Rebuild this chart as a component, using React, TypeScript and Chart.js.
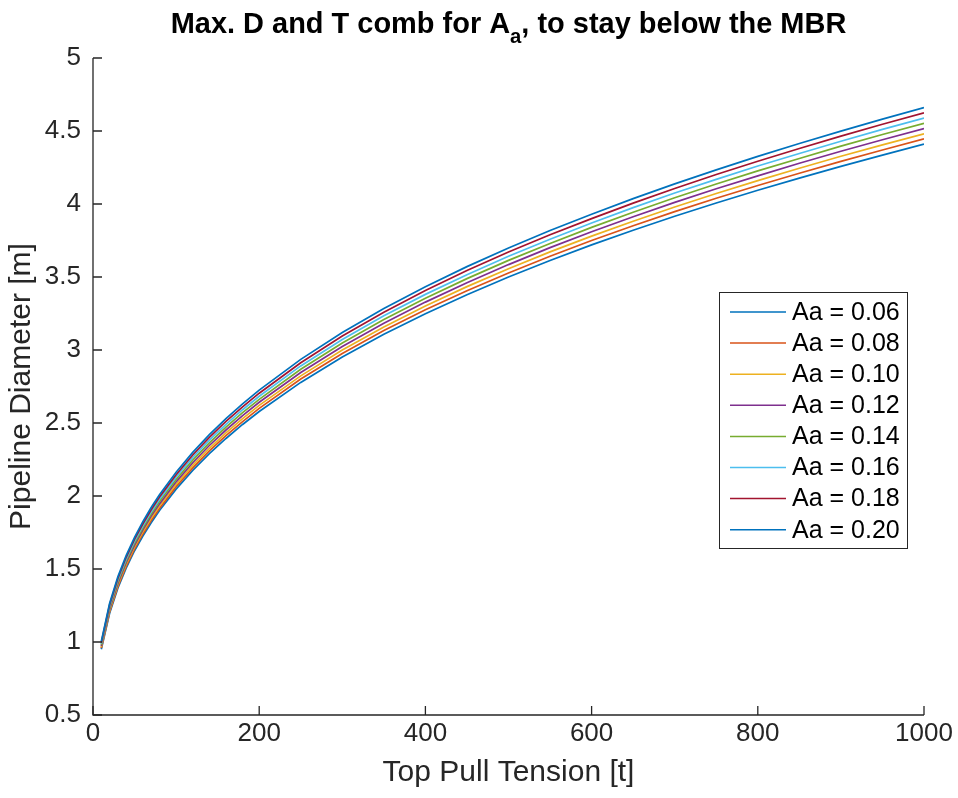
import React, { useEffect, useRef } from "react";
import { Chart, registerables } from "chart.js";

Chart.register(...registerables);

// Top pull tension [t]
const tension = [10, 20, 30, 40, 50, 60, 70, 80, 100, 120, 140, 160, 180, 200, 250, 300, 350, 400, 450, 500, 550, 600, 650, 700, 750, 800, 850, 900, 950, 1000];

// Pipeline diameter [m] per Aa
const aa006 = [0.950, 1.197, 1.370, 1.508, 1.625, 1.726, 1.817, 1.900, 2.047, 2.175, 2.290, 2.394, 2.490, 2.579, 2.778, 2.952, 3.108, 3.249, 3.379, 3.500, 3.613, 3.720, 3.820, 3.916, 4.007, 4.094, 4.177, 4.258, 4.335, 4.410];
const aa008 = [0.958, 1.207, 1.381, 1.520, 1.638, 1.740, 1.832, 1.915, 2.064, 2.193, 2.309, 2.413, 2.510, 2.600, 2.801, 2.976, 3.133, 3.275, 3.406, 3.528, 3.642, 3.750, 3.851, 3.948, 4.039, 4.127, 4.211, 4.292, 4.370, 4.446];
const aa010 = [0.965, 1.216, 1.392, 1.533, 1.651, 1.754, 1.847, 1.931, 2.080, 2.210, 2.327, 2.433, 2.530, 2.621, 2.823, 3.000, 3.158, 3.302, 3.434, 3.557, 3.672, 3.780, 3.882, 3.979, 4.072, 4.160, 4.245, 4.327, 4.405, 4.481];
const aa012 = [0.973, 1.226, 1.403, 1.545, 1.664, 1.768, 1.862, 1.946, 2.097, 2.228, 2.346, 2.452, 2.550, 2.642, 2.846, 3.024, 3.183, 3.328, 3.461, 3.585, 3.701, 3.810, 3.913, 4.011, 4.104, 4.193, 4.279, 4.361, 4.440, 4.517];
const aa014 = [0.981, 1.236, 1.415, 1.557, 1.678, 1.782, 1.876, 1.962, 2.113, 2.246, 2.364, 2.472, 2.571, 2.662, 2.868, 3.048, 3.209, 3.355, 3.489, 3.614, 3.730, 3.840, 3.944, 4.043, 4.137, 4.227, 4.312, 4.396, 4.476, 4.553];
const aa016 = [0.989, 1.246, 1.426, 1.569, 1.691, 1.796, 1.891, 1.977, 2.130, 2.264, 2.383, 2.491, 2.591, 2.683, 2.891, 3.072, 3.234, 3.381, 3.516, 3.642, 3.759, 3.870, 3.975, 4.075, 4.169, 4.260, 4.346, 4.430, 4.511, 4.589];
const aa018 = [0.996, 1.255, 1.437, 1.582, 1.704, 1.810, 1.906, 1.993, 2.146, 2.281, 2.401, 2.511, 2.611, 2.704, 2.913, 3.096, 3.259, 3.408, 3.544, 3.671, 3.789, 3.900, 4.006, 4.106, 4.202, 4.293, 4.380, 4.465, 4.546, 4.624];
const aa020 = [1.004, 1.265, 1.448, 1.594, 1.717, 1.824, 1.921, 2.008, 2.163, 2.299, 2.420, 2.530, 2.631, 2.725, 2.936, 3.120, 3.284, 3.434, 3.571, 3.699, 3.818, 3.930, 4.037, 4.138, 4.234, 4.326, 4.414, 4.499, 4.581, 4.660];

const seriesLabels = ["Aa = 0.06", "Aa = 0.08", "Aa = 0.10", "Aa = 0.12", "Aa = 0.14", "Aa = 0.16", "Aa = 0.18", "Aa = 0.20"];
const seriesValues = [aa006, aa008, aa010, aa012, aa014, aa016, aa018, aa020];
const seriesColors = ["#0072BD", "#D95319", "#EDB120", "#7E2F8E", "#77AC30", "#4DBEEE", "#A2142F", "#0072BD"];

const xTicks = [0, 200, 400, 600, 800, 1000];
const yTicks = [0.5, 1, 1.5, 2, 2.5, 3, 3.5, 4, 4.5, 5];

const AXIS_COLOR = "#262626";
const FONT = "'Liberation Sans', Arial, Helvetica, sans-serif";

const decorPlugin = {
  id: "matlabDecor",
  afterDraw(chart: any) {
    const { ctx, chartArea, scales } = chart;
    const { left, right, top, bottom } = chartArea;
    ctx.save();
    // axes lines
    ctx.strokeStyle = AXIS_COLOR;
    ctx.lineWidth = 1.3;
    ctx.beginPath();
    ctx.moveTo(left, top);
    ctx.lineTo(left, bottom);
    ctx.lineTo(right, bottom);
    ctx.stroke();
    // inward ticks
    const tl = 9;
    ctx.beginPath();
    xTicks.forEach((v) => {
      const px = scales.x.getPixelForValue(v);
      ctx.moveTo(px, bottom);
      ctx.lineTo(px, bottom - tl);
    });
    yTicks.forEach((v) => {
      const py = scales.y.getPixelForValue(v);
      ctx.moveTo(left, py);
      ctx.lineTo(left + tl, py);
    });
    ctx.stroke();

    // title with subscript (slightly condensed)
    const cx = (left + right) / 2;
    const baseY = 33;
    const partA = "Max. D and T comb for A";
    const sub = "a";
    const partB = ", to stay below the MBR";
    const mainFont = `bold 30px ${FONT}`;
    const subFont = `bold 21px ${FONT}`;
    const sx = 0.965;
    ctx.fillStyle = "#000000";
    ctx.textBaseline = "alphabetic";
    ctx.textAlign = "left";
    ctx.font = mainFont;
    const wA = ctx.measureText(partA).width;
    const wB = ctx.measureText(partB).width;
    ctx.font = subFont;
    const wS = ctx.measureText(sub).width;
    const total = (wA + wS + wB) * sx;
    ctx.save();
    ctx.translate(cx - total / 2, 0);
    ctx.scale(sx, 1);
    let x = 0;
    ctx.font = mainFont;
    ctx.fillText(partA, x, baseY);
    x += wA;
    ctx.font = subFont;
    ctx.fillText(sub, x, baseY + 10);
    x += wS;
    ctx.font = mainFont;
    ctx.fillText(partB, x, baseY);
    ctx.restore();

    // legend
    const bx = 719, by = 292.5, bw = 188, bh = 256;
    ctx.fillStyle = "#ffffff";
    ctx.fillRect(bx, by, bw, bh);
    ctx.strokeStyle = AXIS_COLOR;
    ctx.lineWidth = 1;
    ctx.strokeRect(bx + 0.5, by, bw, bh);
    ctx.font = `25px ${FONT}`;
    ctx.textBaseline = "middle";
    seriesLabels.forEach((lab, i) => {
      const y = 312 + i * 31.1;
      ctx.strokeStyle = seriesColors[i];
      ctx.lineWidth = 1.5;
      ctx.beginPath();
      ctx.moveTo(730, y);
      ctx.lineTo(786, y);
      ctx.stroke();
      ctx.fillStyle = "#000000";
      ctx.fillText(lab, 792, y + 1);
    });
    ctx.restore();
  },
};

export default function App() {
  const canvasRef = useRef<HTMLCanvasElement | null>(null);

  useEffect(() => {
    const canvas = canvasRef.current;
    if (!canvas) return;
    const datasets = seriesValues.map((vals, i) => ({
      label: seriesLabels[i],
      data: tension.map((t, j) => ({ x: t, y: vals[j] })),
      borderColor: seriesColors[i],
      backgroundColor: seriesColors[i],
      borderWidth: 1.7,
      pointRadius: 0,
      tension: 0,
      fill: false,
      order: seriesValues.length - 1 - i,
    }));
    const chart = new Chart(canvas, {
      type: "line",
      data: { datasets },
      options: {
        animation: false,
        responsive: true,
        maintainAspectRatio: false,
        layout: { padding: { top: 58, right: 34, left: 0, bottom: 0 } },
        plugins: {
          legend: { display: false },
          title: { display: false },
          tooltip: { enabled: false },
        },
        scales: {
          x: {
            type: "linear",
            min: 0,
            max: 1000,
            grid: { display: false, drawTicks: false },
            border: { display: false },
            ticks: {
              stepSize: 200,
              color: AXIS_COLOR,
              font: { family: FONT, size: 26 },
              padding: 3,
              maxRotation: 0,
              callback: (v: any) => String(v),
            },
            title: {
              display: true,
              text: "Top Pull Tension [t]",
              color: AXIS_COLOR,
              font: { family: FONT, size: 30 },
              padding: { top: 0, bottom: 7 },
            },
            afterFit: (scale: any) => {
              scale.height = 83;
            },
          },
          y: {
            type: "linear",
            min: 0.5,
            max: 5,
            grid: { display: false, drawTicks: false },
            border: { display: false },
            ticks: {
              stepSize: 0.5,
              color: AXIS_COLOR,
              font: { family: FONT, size: 26 },
              padding: 12,
              callback: (v: any) => String(v),
            },
            title: {
              display: true,
              text: "Pipeline Diameter [m]",
              color: AXIS_COLOR,
              font: { family: FONT, size: 30 },
              padding: { top: 4, bottom: 0 },
            },
            afterFit: (scale: any) => {
              scale.width = 93;
            },
          },
        },
      },
      plugins: [decorPlugin],
    });
    return () => chart.destroy();
  }, []);

  return (
    <div style={{ position: "absolute", left: 0, top: 0, width: 958, height: 798, background: "#ffffff" }}>
      <canvas ref={canvasRef} />
    </div>
  );
}
